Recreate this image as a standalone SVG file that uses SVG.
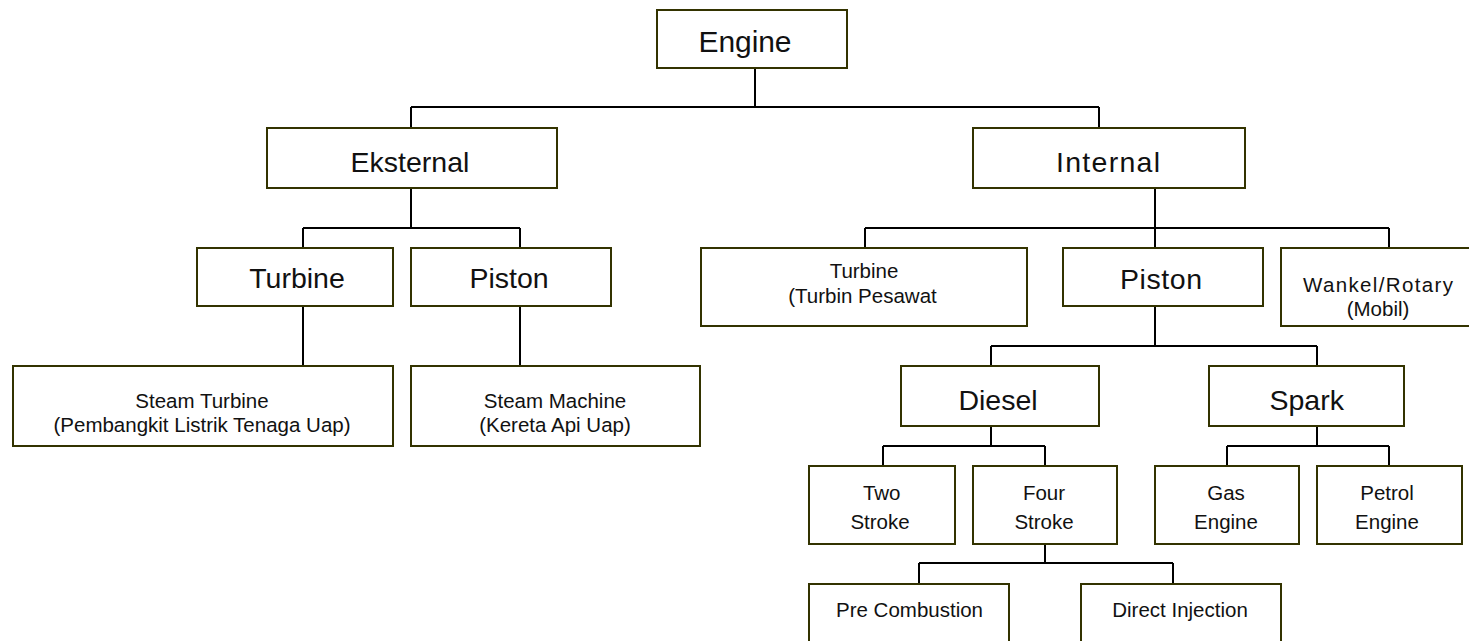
<svg xmlns="http://www.w3.org/2000/svg" width="1469" height="641" viewBox="0 0 1469 641">
<style>
.box{fill:#fff;stroke:#333300;stroke-width:2}
.ln{fill:none;stroke:#000;stroke-width:2}
text{font-family:"Liberation Sans",Arial,sans-serif;fill:#111;text-anchor:middle}
.big{font-size:28.5px}
.sm{font-size:20.5px}
</style>
<rect width="1469" height="641" fill="#fff"/>
<g id="connectors">
<path class="ln" d="M755 68V107M411 107H1099M411 107V128M1099 107V128"/>
<path class="ln" d="M411 188V228M303 228H520M303 228V248M520 228V248"/>
<path class="ln" d="M303 306V366M520 306V366"/>
<path class="ln" d="M1155 188V228M865 228H1389M865 228V248M1155 228V248M1389 228V248"/>
<path class="ln" d="M1155 306V346M991 346H1317M991 346V366M1317 346V366"/>
<path class="ln" d="M991 426V446M883 446H1045M883 446V466M1045 446V466"/>
<path class="ln" d="M1317 426V446M1227 446H1389M1227 446V466M1389 446V466"/>
<path class="ln" d="M1045 544V563M919 563H1173M919 563V584M1173 563V584"/>
</g>
<g id="engine"><rect class="box" x="657" y="10" width="190" height="58"/><text x="745" y="51.7" font-size="30" textLength="93">Engine</text></g>
<g id="eksternal"><rect class="box" x="267" y="128" width="290" height="60"/><text class="big" x="410" y="171.7">Eksternal</text></g>
<g id="internal"><rect class="box" x="973" y="128" width="272" height="60"/><text class="big" x="1108" y="171.7" textLength="104">Internal</text></g>
<g id="ext-turbine"><rect class="box" x="197" y="248" width="196" height="58"/><text class="big" x="297" y="288.3">Turbine</text></g>
<g id="ext-piston"><rect class="box" x="411" y="248" width="200" height="58"/><text class="big" x="509" y="288.3">Piston</text></g>
<g id="steam-turbine"><rect class="box" x="13" y="366" width="380" height="80"/><text class="sm" x="202" y="407.7">Steam Turbine</text><text class="sm" x="202" y="431.7">(Pembangkit Listrik Tenaga Uap)</text></g>
<g id="steam-machine"><rect class="box" x="411" y="366" width="289" height="80"/><text class="sm" x="555" y="407.7">Steam Machine</text><text class="sm" x="555" y="431.7">(Kereta Api Uap)</text></g>
<g id="int-turbine"><rect class="box" x="701" y="248" width="326" height="78"/><text class="sm" x="864" y="277.7">Turbine</text><text class="sm" x="862.5" y="303.3">(Turbin Pesawat</text></g>
<g id="int-piston"><rect class="box" x="1063" y="248" width="200" height="58"/><text class="big" x="1161" y="289" textLength="82">Piston</text></g>
<g id="wankel"><rect class="box" x="1281" y="248" width="194" height="78"/><text class="sm" x="1378" y="292.3" textLength="150">Wankel/Rotary</text><text class="sm" x="1378" y="316">(Mobil)</text></g>
<g id="diesel"><rect class="box" x="901" y="366" width="198" height="60"/><text class="big" x="998" y="410">Diesel</text></g>
<g id="spark"><rect class="box" x="1209" y="366" width="195" height="60"/><text class="big" x="1306.7" y="410">Spark</text></g>
<g id="two-stroke"><rect class="box" x="809" y="466" width="146" height="78"/><text class="sm" x="881.7" y="500">Two</text><text class="sm" x="880" y="529.3">Stroke</text></g>
<g id="four-stroke"><rect class="box" x="973" y="466" width="144" height="78"/><text class="sm" x="1044" y="500">Four</text><text class="sm" x="1044" y="529.3">Stroke</text></g>
<g id="gas-engine"><rect class="box" x="1155" y="466" width="144" height="78"/><text class="sm" x="1226" y="500">Gas</text><text class="sm" x="1226" y="529.3">Engine</text></g>
<g id="petrol-engine"><rect class="box" x="1317" y="466" width="145" height="78"/><text class="sm" x="1387" y="500">Petrol</text><text class="sm" x="1387" y="529.3">Engine</text></g>
<g id="pre-combustion"><rect class="box" x="809" y="584" width="200" height="60"/><text class="sm" x="909.5" y="617.3">Pre Combustion</text></g>
<g id="direct-injection"><rect class="box" x="1081" y="584" width="200" height="60"/><text class="sm" x="1180" y="617.3">Direct Injection</text></g>
</svg>
